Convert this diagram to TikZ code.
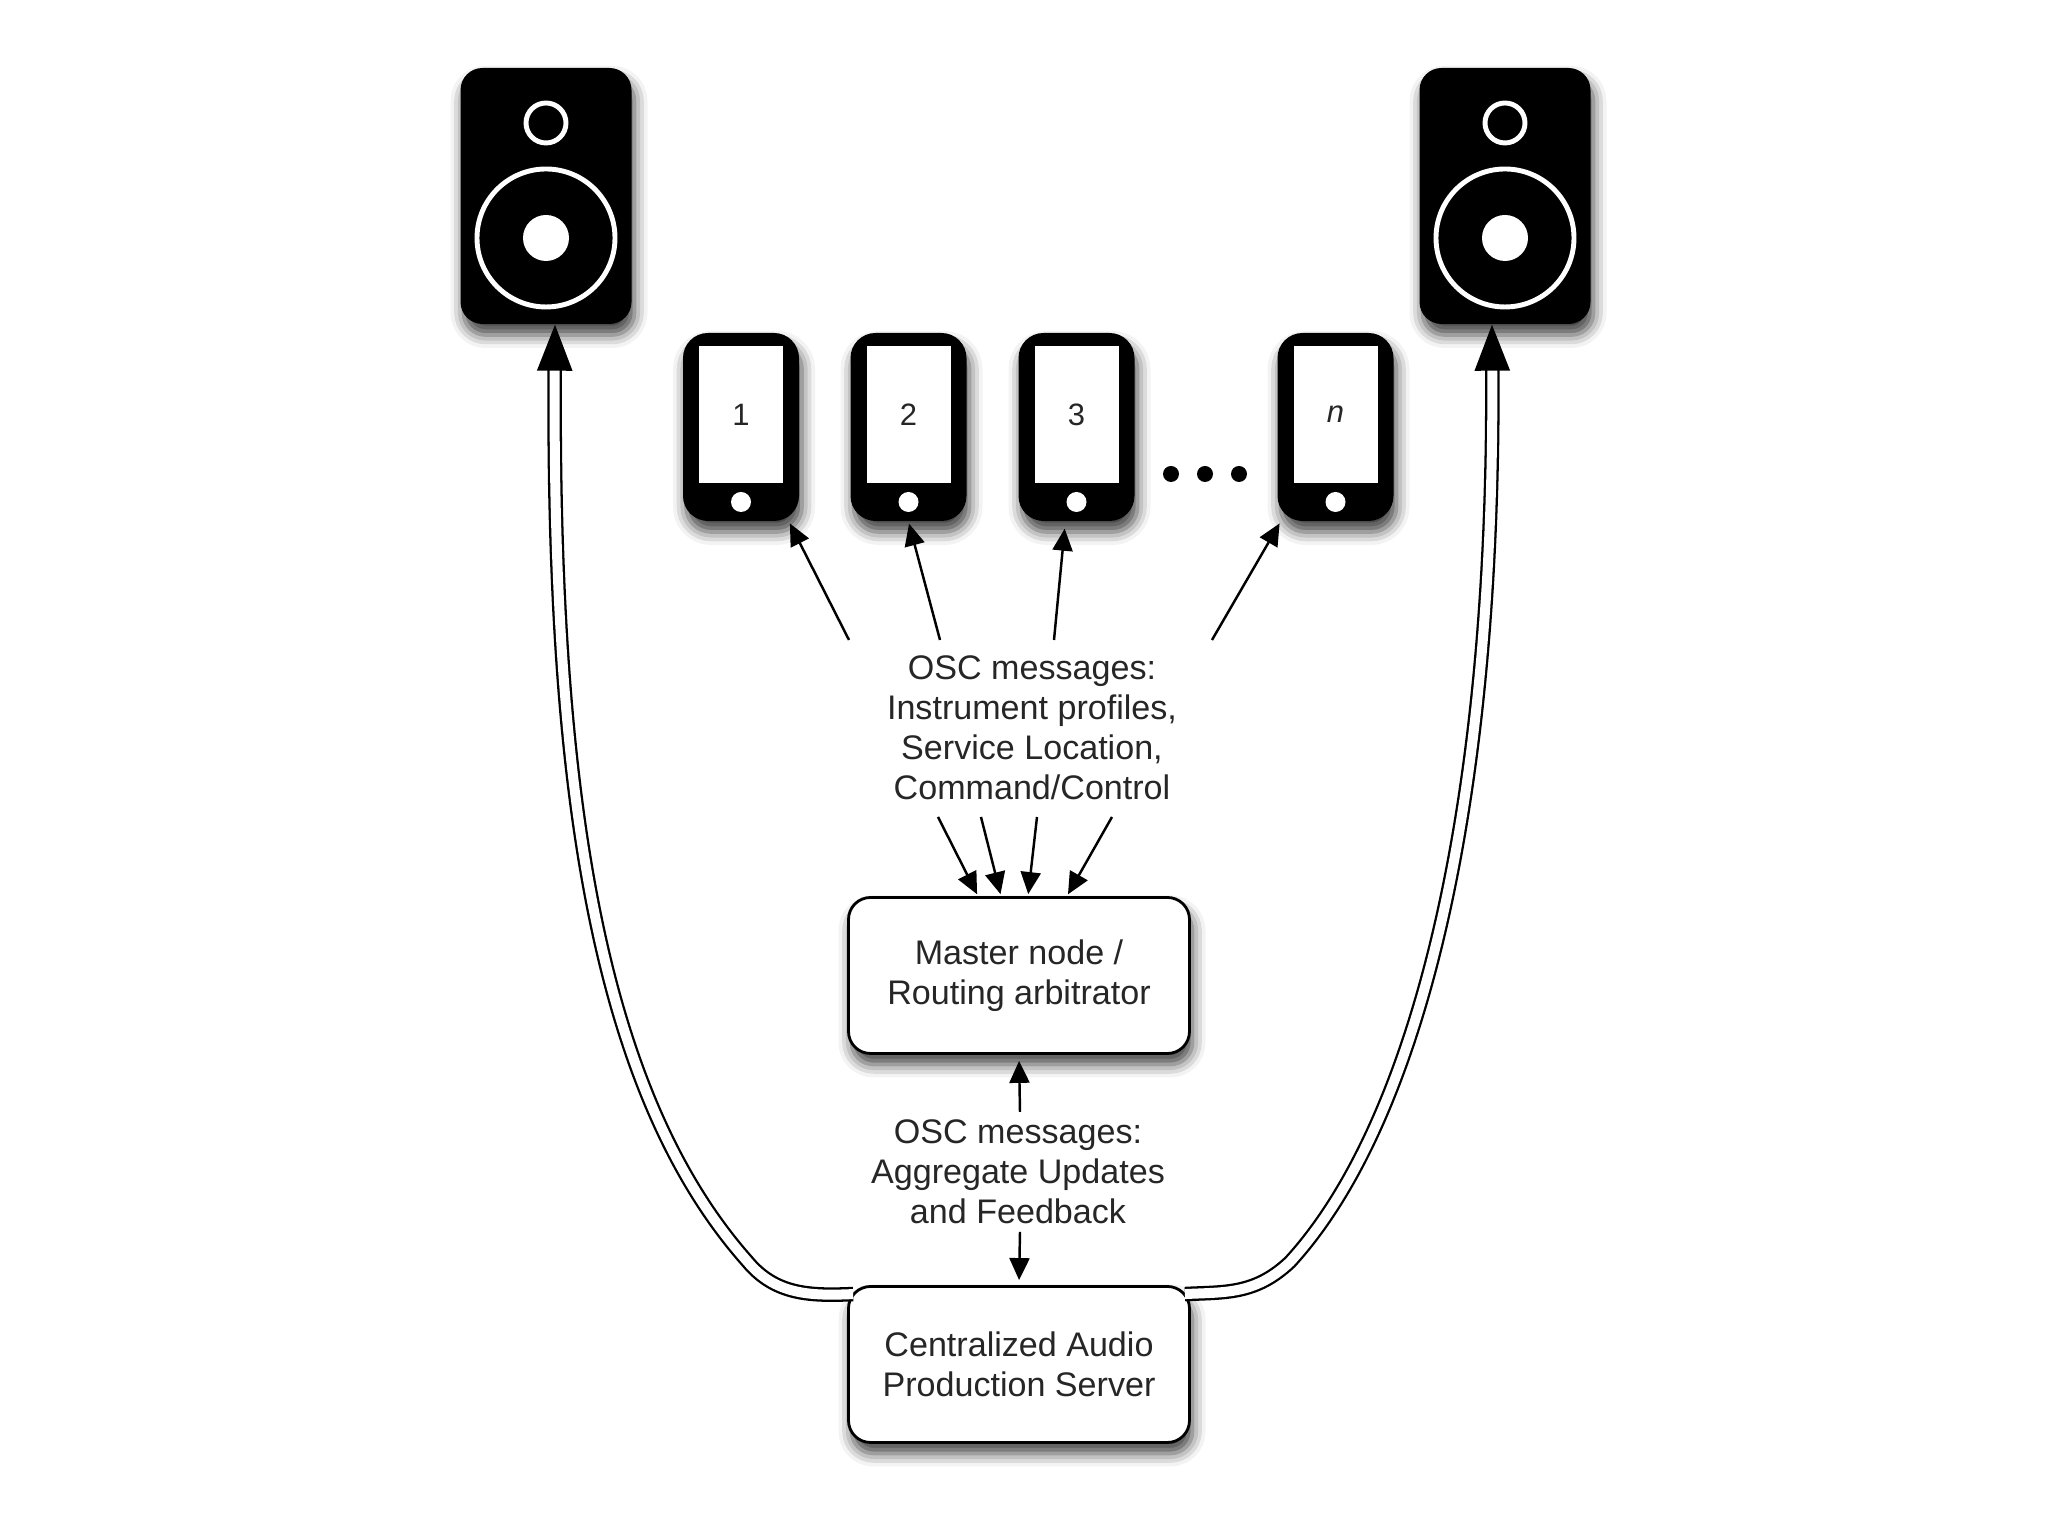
\documentclass[tikz,border=0pt]{standalone}
\usepackage{fontspec}
\setmainfont{Liberation Sans}
\usepackage{xcolor}
\usepackage{tikz}
\usetikzlibrary{shapes, arrows.meta, positioning, calc, shadows.blur}

\begin{document}
\begin{tikzpicture}[
        softshadow/.style={blur shadow={shadow xshift=.03cm, shadow yshift=-.11cm, shadow blur radius=.13cm, shadow opacity=75}},
        speaker/.style={rectangle, fill=black, rounded corners=.22cm, minimum width=1.71cm, minimum height=2.56cm, softshadow},
        phone/.style={rectangle, fill=black, rounded corners=.25cm, minimum width=1.16cm, minimum height=1.88cm, softshadow},
        screen/.style={rectangle, fill=white, minimum width=.84cm, minimum height=1.37cm, inner sep=0pt, font=\fontsize{8.8}{11}\selectfont, text=black!85},
        ring/.style={circle, draw=white, line width=1.4pt, inner sep=0pt},
        dome/.style={circle, fill=white, inner sep=0pt},
        dot/.style={circle, fill=black, inner sep=0pt, minimum size=.16cm},
        box/.style={rectangle, draw=black, fill=white, line width=.8pt, rounded corners=.22cm, minimum width=3.41cm, minimum height=1.56cm, align=center, font=\fontsize{9.7}{11.4}\selectfont, text=black!85, softshadow},
        msg/.style={align=center, font=\fontsize{9.7}{11.4}\selectfont, text=black!85},
        arrow/.style={-{Triangle[length=.22cm, width=.2cm]}, line width=.7pt, draw=black, shorten >=.02cm},
        wire/.style={-{Triangle[length=.46cm, width=.35cm]}, draw=black, line width=.65pt, double=white, double distance=.1cm}
    ]
        \useasboundingbox (0, 0) rectangle (20.48, 15.36);

        % Altavoces
        \node [speaker] (spkl) at (5.46, 13.40) {};
        \node [ring, minimum size=.40cm] (twl) at (5.46, 14.13) {};
        \node [ring, minimum size=1.38cm] (wfl) at (5.46, 12.98) {};
        \node [dome, minimum size=.46cm] (dml) at (5.46, 12.98) {};
        \node [speaker] (spkr) at (15.05, 13.40) {};
        \node [ring, minimum size=.40cm] (twr) at (15.05, 14.13) {};
        \node [ring, minimum size=1.38cm] (wfr) at (15.05, 12.98) {};
        \node [dome, minimum size=.46cm] (dmr) at (15.05, 12.98) {};

        % Telefonos
        \node [phone] (phone1) at (7.41, 11.09) {};
        \node [screen] (scr1) at (7.41, 11.215) {1};
        \node [dome, minimum size=.2cm] (btn1) at (7.41, 10.34) {};
        \node [phone] (phone2) at (9.085, 11.09) {};
        \node [screen] (scr2) at (9.085, 11.215) {2};
        \node [dome, minimum size=.2cm] (btn2) at (9.085, 10.34) {};
        \node [phone] (phone3) at (10.765, 11.09) {};
        \node [screen] (scr3) at (10.765, 11.215) {3};
        \node [dome, minimum size=.2cm] (btn3) at (10.765, 10.34) {};
        \node [phone] (phonen) at (13.355, 11.09) {};
        \node [screen] (scrn) at (13.355, 11.215) {\itshape n};
        \node [dome, minimum size=.2cm] (btnn) at (13.355, 10.34) {};
        \node [dot] (dot1) at (11.71, 10.62) {};
        \node [dot] (dot2) at (12.05, 10.62) {};
        \node [dot] (dot3) at (12.39, 10.62) {};

        % Cajas y textos
        \node [msg] (osctop) at (10.32, 8.08) {OSC messages:\\Instrument profiles,\\Service Location,\\Command/Control};
        \node [box] (master) at (10.19, 5.605) {Master node /\\Routing arbitrator};
        \node [msg] (osclow) at (10.18, 3.645) {OSC messages:\\Aggregate Updates\\and Feedback};
        \node [box] (server) at (10.19, 1.715) {Centralized Audio\\Production Server};

        % Extremos libres
        \coordinate (up1) at (8.49, 8.96);
        \coordinate (up2) at (9.40, 8.96);
        \coordinate (up3) at (10.54, 8.96);
        \coordinate (upn) at (12.12, 8.96);
        \coordinate (in1) at (9.38, 7.19);
        \coordinate (in2) at (9.81, 7.19);
        \coordinate (in3) at (10.37, 7.19);
        \coordinate (in4) at (11.12, 7.19);
        \coordinate (lowup) at (10.20, 4.24);
        \coordinate (lowdown) at (10.20, 3.04);

        % Canal hacia los telefonos
        \draw [arrow] (up1) -- (phone1);
        \draw [arrow] (up2) -- (phone2.south);
        \draw [arrow] (up3) -- ([yshift=-.05cm]phone3.-97);
        \draw [arrow] (upn) -- (phonen);

        % Canal hacia el nodo maestro
        \draw [arrow] (in1) -- ([xshift=-.41cm]master.north);
        \draw [arrow] (in2) -- ([xshift=-.18cm]master.north);
        \draw [arrow] (in3) -- ([xshift=.09cm]master.north);
        \draw [arrow] (in4) -- ([xshift=.48cm]master.north);
        \draw [arrow, shorten >=.06cm] (lowup) -- (master.south);
        \draw [arrow, shorten >=.05cm] (lowdown) -- (server.north);

        % Salida de audio
        \draw [wire] ([shift={(.06cm,-.09cm)}]server.north west) .. controls (8.10, 2.40) and (7.75, 2.41) .. (7.47, 2.75)
            .. controls (6.00, 4.41) and (5.52, 7.36) .. ([xshift=.09cm]spkl.south);
        \draw [wire] ([shift={(-.06cm,-.09cm)}]server.north east) .. controls (12.25, 2.44) and (12.55, 2.41) .. (12.90, 2.74)
            .. controls (14.20, 4.16) and (14.95, 7.36) .. ([xshift=-.13cm]spkr.south);
    \end{tikzpicture}
\end{document}
